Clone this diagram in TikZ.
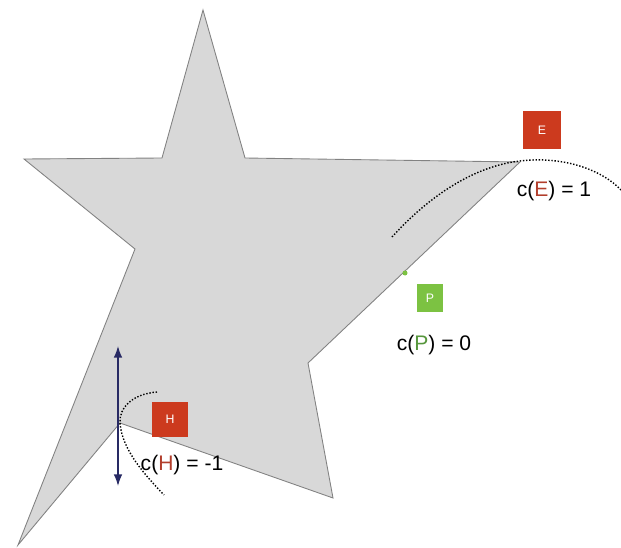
\documentclass[tikz,border=0pt]{standalone}
\usepackage{fontspec}
\setmainfont{Liberation Sans}
\usepackage{xcolor}
\usetikzlibrary{arrows.meta}

\definecolor{starfill}{RGB}{216,216,216}
\definecolor{starline}{RGB}{130,130,130}
\definecolor{flagred}{RGB}{204,58,30}
\definecolor{flaggreen}{RGB}{124,194,66}
\definecolor{textred}{RGB}{178,62,44}
\definecolor{textgreen}{RGB}{86,150,60}
\definecolor{arrownavy}{RGB}{40,42,100}

\begin{document}
\begin{tikzpicture}[x=0.02cm,y=-0.02cm,>=Latex]
  \tikzstyle{flag}=[fill=flagred,minimum width=0.75cm,minimum height=0.75cm,inner sep=0pt,text=white,font=\fontsize{7}{8}\selectfont]
  \tikzstyle{cost}=[font=\fontsize{12}{14}\selectfont,inner sep=1pt]
  \tikzstyle{osc}=[densely dotted,line width=0.8pt]
  \useasboundingbox (0,0) rectangle (621,547);
  % the shape
  \filldraw[fill=starfill,draw=starline,line width=0.5pt]
    (203,10) -- (245,158) -- (520,162) -- (308,363) -- (333,498)
    -- (120,423) -- (18,545) -- (135,249) -- (24,159) -- (162,158) -- cycle;
  \coordinate (tipE) at (520,161);
  \coordinate (dentH) at (120,423);
  \coordinate (dotP) at (405,273);
  % markers
  \node[flag] (E) at (542,130) {E};
  \node[flag,fill=flaggreen,minimum width=0.53cm,minimum height=0.55cm] (P) at (430,298) {P};
  \node[flag,minimum width=0.72cm,minimum height=0.7cm] (H) at (170,419) {H};
  \node[cost] (cE) at (554,191) {c(\textcolor{textred}{E}) = 1};
  \node[cost] (cP) at (434,345) {c(\textcolor{textgreen}{P}) = 0};
  \node[cost] (cH) at (182,465) {c(\textcolor{textred}{H}) = -1};
  \fill[flaggreen] (dotP) circle (2.5);
  % osculating curves
  \coordinate (eStart) at (392,237);
  \coordinate (eEnd) at (621,190);
  \draw[osc] (eStart) .. controls (430,195) and (475,166) .. (tipE)
    .. controls (560,156) and (600,168) .. (eEnd);
  \coordinate (hStart) at (157,392);
  \coordinate (hEnd) at (164,495);
  \draw[osc] (hStart) .. controls (132,394) and (119,408) .. (dentH)
    .. controls (122,450) and (145,475) .. (hEnd);
  % normal direction
  \coordinate (nTop) at (118,346);
  \coordinate (nBot) at (118,486);
  \draw[<->,arrownavy,line width=0.8pt] (nTop) -- (nBot);
\end{tikzpicture}
\end{document}
